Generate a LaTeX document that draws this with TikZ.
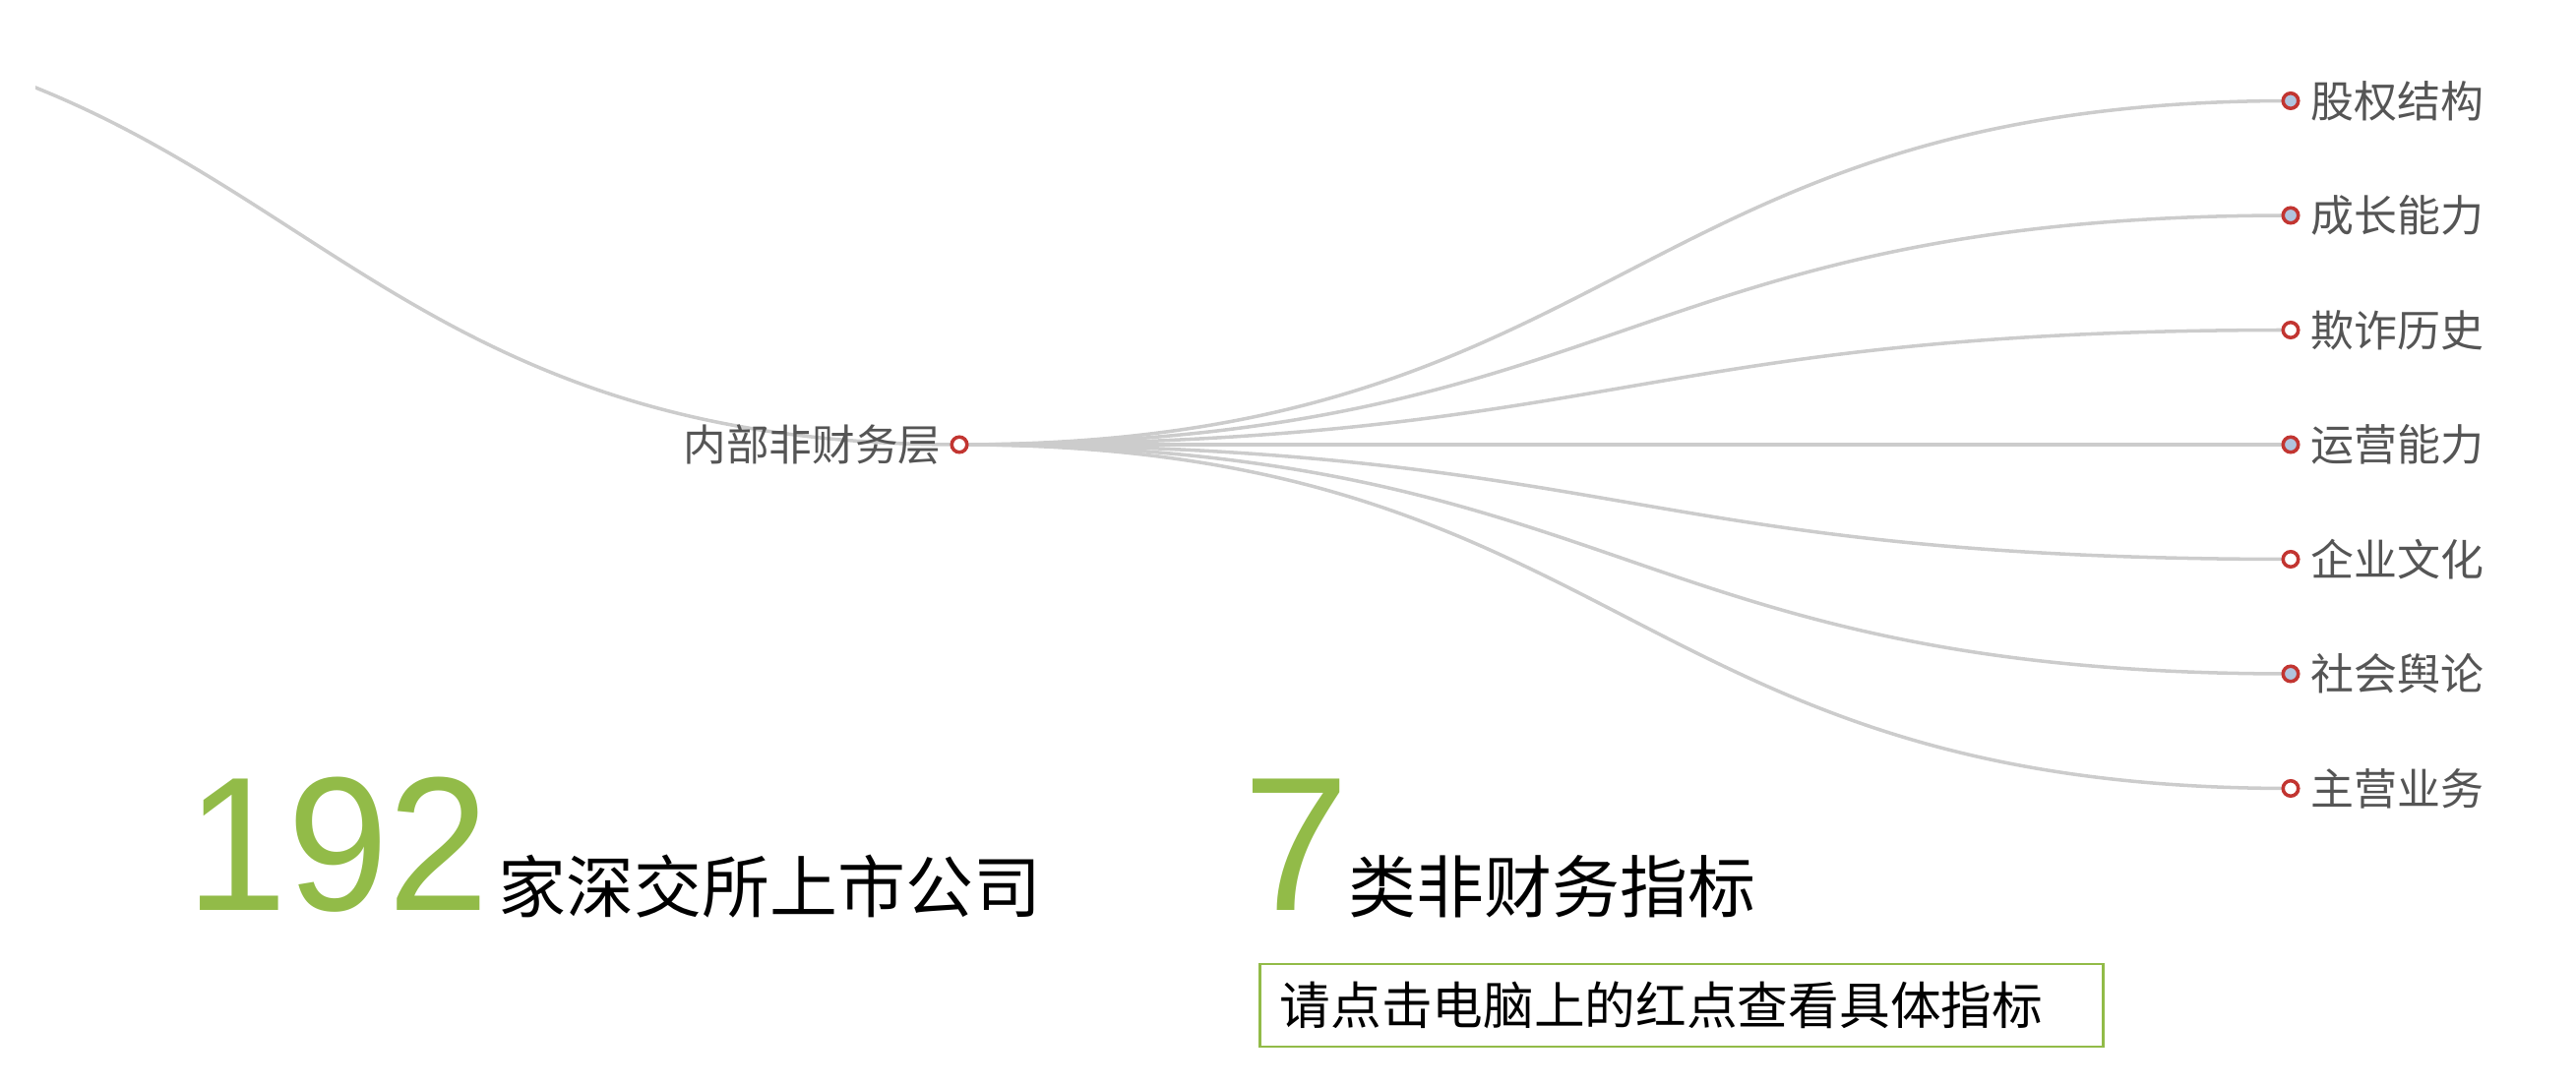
\documentclass[tikz,border=0pt]{standalone}
\usepackage{fontspec}
\newfontfamily\cjk{Noto Sans CJK SC}
\newfontfamily\arialf{Liberation Sans}
\usetikzlibrary{backgrounds}
\definecolor{edgegray}{HTML}{CCCCCC}
\definecolor{dotred}{HTML}{C23531}
\definecolor{steel}{HTML}{B0C4DE}
\definecolor{labelgray}{HTML}{555555}
\definecolor{bigreen}{HTML}{92BB48}
\tikzset{
  edge/.style={draw=edgegray, line width=1pt},
  dotopen/.style={circle, draw=dotred, fill=white, line width=1pt, minimum size=0.155cm, inner sep=0pt},
  dotfull/.style={dotopen, fill=steel},
  leaflabel/.style={anchor=west, inner sep=0pt, text=labelgray, font={\cjk\fontsize{12.5pt}{14pt}\selectfont}},
  midlabel/.style={anchor=east, inner sep=0pt, text=labelgray, font={\cjk\fontsize{12.4pt}{14pt}\selectfont}},
  bignum/.style={anchor=base west, inner sep=0pt, text=bigreen, font={\arialf\fontsize{55.2pt}{58pt}\selectfont}},
  bigtext/.style={anchor=base west, inner sep=0pt, text=black, font={\cjk\fontsize{19.6pt}{22pt}\selectfont}},
  hintbox/.style={draw=bigreen, line width=0.75pt, minimum width=8.56cm, minimum height=0.84cm, inner sep=0pt},
  hinttext/.style={anchor=west, inner sep=0pt, text=black, font={\cjk\fontsize{14.7pt}{17pt}\selectfont}}
}
\begin{document}
\begin{tikzpicture}[x=0.01cm, y=-0.01cm]
\useasboundingbox (0,0) rectangle (2618,1104);
\coordinate (root) at (-378,16);
\node[dotopen] (c) at (975,452) {};
\node[midlabel] (cl) at (957,452) {内部非财务层};
\node[dotfull] (l1) at (2328,102.5) {};
\node[dotfull] (l2) at (2328,219) {};
\node[dotopen] (l3) at (2328,335.5) {};
\node[dotfull] (l4) at (2328,452) {};
\node[dotopen] (l5) at (2328,568.5) {};
\node[dotfull] (l6) at (2328,685) {};
\node[dotopen] (l7) at (2328,801.5) {};
\node[leaflabel] (t1) at (2348,102.5) {股权结构};
\node[leaflabel] (t2) at (2348,219) {成长能力};
\node[leaflabel] (t3) at (2348,335.5) {欺诈历史};
\node[leaflabel] (t4) at (2348,452) {运营能力};
\node[leaflabel] (t5) at (2348,568.5) {企业文化};
\node[leaflabel] (t6) at (2348,685) {社会舆论};
\node[leaflabel] (t7) at (2348,801.5) {主营业务};
\begin{pgfonlayer}{background}
\begin{scope}
\clip (36,0) rectangle (2618,1104);
\draw[edge] (root) .. controls +(676.5,0) and +(-676.5,0) .. (c.center);
\end{scope}
\foreach \i in {1,...,7}{
  \draw[edge] (c.center) .. controls +(676.5,0) and +(-676.5,0) .. (l\i.center);
}
\end{pgfonlayer}
\node[bignum] (n192) at (189,926) {\scalebox{0.95}[1]{192}};
\node[bigtext] (s192) at (506,928) {家深交所上市公司};
\node[bignum] (n7) at (1263,926) {7};
\node[bigtext] (s7) at (1370,928) {类非财务指标};
\node[hintbox] (hb) at (1709,1022) {};
\node[hinttext] (ht) at (1300,1022) {请点击电脑上的红点查看具体指标};
\end{tikzpicture}
\end{document}
